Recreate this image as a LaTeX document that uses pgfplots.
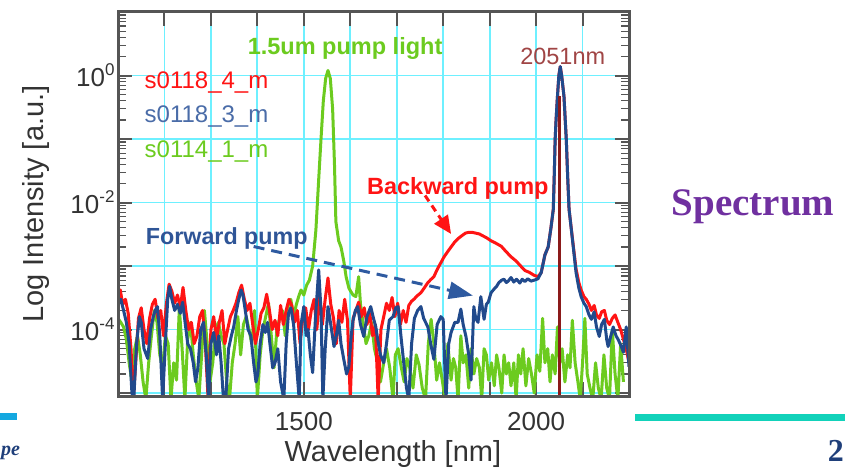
\documentclass[border=0pt]{standalone}
\usepackage{fontspec}
\setmainfont{Liberation Sans}
\newfontfamily\slideserif{Liberation Serif}
\usepackage{pgfplots}
\pgfplotsset{compat=1.18}
\usetikzlibrary{arrows.meta}
\definecolor{cred}{HTML}{FF1414}
\definecolor{cblue}{HTML}{214A8C}
\definecolor{cgreen}{HTML}{6CCB1F}
\definecolor{cmaroon}{HTML}{8B1A1A}
\definecolor{clab}{HTML}{A04545}
\definecolor{cgrid}{HTML}{6EF0FF}
\definecolor{cframe}{HTML}{555555}
\definecolor{ctick}{HTML}{333333}
\definecolor{clegblue}{HTML}{4A6CA8}
\definecolor{cfwd}{HTML}{2F5597}
\definecolor{carrow}{HTML}{2E5AA0}
\definecolor{cpurple}{HTML}{7030A0}
\definecolor{cteal}{HTML}{12D2BA}
\definecolor{cbar}{HTML}{14A8E0}
\definecolor{cnavy}{HTML}{1F3F7A}
\newcommand\tlab[1]{10\raisebox{0.42em}{\fontsize{17}{17}\selectfont #1}}
\begin{document}
\begin{tikzpicture}
\useasboundingbox (0,0) rectangle (845pt,470pt);
\begin{axis}[
  at={(118pt,74pt)}, anchor=south west,
  scale only axis, width=511pt, height=384pt,
  xmin=1100, xmax=2200, ymode=log, ymin=9e-6, ymax=10,
  xtick={1100,1200,...,2200},
  xticklabels={,,,,1500,,,,,2000,,},
  ytick={1e-5,1e-4,1e-3,1e-2,1e-1,1,10},
  yticklabels={,{\tlab{-4}},,{\tlab{-2}},,{\tlab{0}},},
  minor ytick={2e-5,3e-5,4e-5,5e-5,6e-5,7e-5,8e-5,9e-5,2e-4,3e-4,4e-4,5e-4,6e-4,7e-4,8e-4,9e-4,2e-3,3e-3,4e-3,5e-3,6e-3,7e-3,8e-3,9e-3,2e-2,3e-2,4e-2,5e-2,6e-2,7e-2,8e-2,9e-2,0.2,0.3,0.4,0.5,0.6,0.7,0.8,0.9,2,3,4,5,6,7,8,9},
  grid=major,
  major grid style={cgrid, line width=1.8pt},
  axis line style={cframe, line width=3pt},
  tick style={cframe, line width=2pt},
  minor tick style={line width=1.2pt},
  major tick length=14pt, minor tick length=8pt,
  tick label style={font=\fontsize{26}{26}\selectfont, text=ctick},
  xticklabel style={yshift=-13pt},
  label style={font=\fontsize{29}{30}\selectfont, text=ctick},
  xlabel={Wavelength [nm]},
  ylabel={Log Intensity [a.u.]},
  xlabel style={at={(axis description cs:0.538,-0.152)}, anchor=center},
  ylabel style={at={(axis description cs:-0.160,0.5)}, anchor=center},
  clip mode=individual,
  every axis plot/.append style={line width=3pt, line join=round},
]
% s0114_1_m (green)
\addplot[cgreen] coordinates {(1100,1.5e-4)(1106,1.3e-4)(1112,1.1e-4)(1118,7e-5)(1124,3e-5)(1130,1.5e-5)(1136,5e-5)(1142,8e-5)(1148,4e-5)(1154,1.5e-5)(1160,8e-6)(1166,3e-5)(1172,8e-5)(1178,2.0e-4)(1184,1.3e-4)(1190,4e-5)(1196,2.5e-5)(1202,8e-5)(1208,6e-5)(1214,8e-6)(1220,3e-5)(1226,1.6e-5)(1232,2.2e-4)(1238,5e-5)(1244,8e-6)(1250,7e-5)(1256,1.3e-4)(1262,4e-5)(1268,1.6e-5)(1274,8e-6)(1280,4e-5)(1286,2.0e-4)(1292,6e-5)(1298,1.5e-5)(1304,3e-5)(1310,1.0e-4)(1316,1.3e-4)(1322,8e-5)(1328,6e-5)(1334,1.5e-5)(1340,8e-6)(1346,3e-5)(1352,6e-5)(1358,1.6e-4)(1364,4e-5)(1370,1.2e-4)(1376,1.6e-4)(1382,1.0e-4)(1388,6e-5)(1394,2.0e-4)(1400,8e-6)(1406,4e-5)(1412,1.0e-4)(1418,1.6e-4)(1424,2.6e-4)(1430,8e-5)(1436,2.5e-5)(1442,1.0e-4)(1448,1.5e-4)(1454,2.0e-4)(1460,8e-5)(1466,2.3e-4)(1472,3.0e-4)(1478,1.6e-4)(1484,2.5e-4)(1490,3.5e-4)(1494,4.2e-4)(1500,3.5e-4)(1506,5.0e-4)(1512,6e-4)(1519,1.0e-3)(1526,3.7e-3)(1532,2.3e-2)(1537,0.1)(1542,0.4)(1547,0.9)(1552,1.2)(1557,0.9)(1562,0.3)(1566,4e-2)(1569,5e-3)(1575,2.5e-3)(1580,2.0e-3)(1586,1.2e-3)(1591,6.8e-4)(1597,4.5e-4)(1601,4.0e-4)(1606,3.5e-4)(1612,3.3e-4)(1618,6.8e-4)(1622,2.5e-4)(1628,1.2e-4)(1634,6e-5)(1640,8e-5)(1646,1.3e-4)(1652,5e-5)(1659,3e-5)(1665,1.5e-5)(1672,3e-5)(1678,5e-5)(1685,2.5e-5)(1692,8e-6)(1697,4e-5)(1703,5e-5)(1710,2.5e-5)(1716,1.5e-5)(1722,3.5e-5)(1728,2.5e-5)(1735,1.2e-5)(1742,4e-5)(1748,2.8e-5)(1755,1.2e-5)(1762,8e-6)(1768,6e-5)(1774,1.45e-4)(1780,6e-5)(1786,1.6e-5)(1792,3e-5)(1798,1.6e-5)(1804,8e-6)(1810,6e-5)(1817,1.6e-5)(1822,3.5e-5)(1827,2.5e-5)(1832,8e-6)(1838,8e-5)(1843,3e-5)(1849,4e-5)(1855,1.2e-5)(1860,5e-5)(1866,2e-5)(1872,3.5e-5)(1878,2.5e-5)(1883,8e-6)(1888,5e-5)(1893,4e-5)(1898,1.6e-5)(1904,3e-5)(1910,1.3e-5)(1915,4e-5)(1920,2.5e-5)(1926,1.0e-5)(1931,4e-5)(1936,2.0e-5)(1941,3e-5)(1946,1.3e-5)(1952,3e-5)(1957,8e-6)(1962,4e-5)(1967,2e-5)(1972,5e-5)(1978,1.3e-5)(1984,3.5e-5)(1990,2e-5)(1996,1.0e-5)(2002,4e-5)(2008,2.2e-5)(2014,1.5e-4)(2019,3e-5)(2025,5e-5)(2030,1.5e-5)(2035,4e-5)(2041,2e-5)(2046,1.1e-4)(2051,3e-5)(2056,5e-5)(2062,1.5e-5)(2068,4e-5)(2073,2.5e-5)(2078,1.4e-4)(2084,3e-5)(2090,1.5e-5)(2095,8e-6)(2100,3e-5)(2105,1.5e-4)(2110,2e-5)(2116,1.2e-5)(2122,8e-6)(2128,3e-5)(2134,1.2e-5)(2140,8e-6)(2146,4e-5)(2152,1.2e-5)(2158,8e-6)(2164,1.0e-4)(2170,2e-5)(2176,8e-6)(2182,6e-5)(2188,1.5e-5)};
% s0118_4_m (red)
\addplot[cred] coordinates {(1100,3.5e-4)(1105,4.2e-4)(1110,2.5e-4)(1116,3.0e-4)(1122,1.8e-4)(1128,5e-5)(1133,8e-6)(1138,3e-5)(1144,1.5e-4)(1150,2.2e-4)(1156,1.0e-4)(1162,6e-5)(1168,1.5e-4)(1174,2.5e-4)(1180,3.0e-4)(1186,1.5e-4)(1192,2.0e-4)(1198,8e-5)(1204,2.5e-4)(1210,5.2e-4)(1216,4.0e-4)(1222,2.6e-4)(1228,3.5e-4)(1234,2.2e-4)(1240,4.6e-4)(1246,2.0e-4)(1252,1.0e-4)(1258,1.3e-4)(1264,6e-5)(1270,8e-5)(1276,1.6e-4)(1282,2.0e-4)(1288,6e-5)(1294,8e-6)(1300,1.0e-4)(1306,1.6e-4)(1312,7e-5)(1318,1.3e-4)(1324,2.0e-4)(1330,6e-5)(1336,1.0e-4)(1342,1.6e-4)(1348,2.0e-4)(1354,2.6e-4)(1360,3.8e-4)(1366,5.0e-4)(1372,3.0e-4)(1378,2.0e-4)(1384,2.6e-4)(1390,1.2e-4)(1396,6e-5)(1402,1.0e-4)(1408,1.8e-4)(1414,2.2e-4)(1420,3.6e-4)(1426,2.0e-4)(1432,1.0e-4)(1438,1.4e-4)(1444,8e-5)(1450,2.4e-4)(1456,1.2e-4)(1462,2.0e-4)(1468,3.0e-4)(1474,2.4e-4)(1480,1.3e-4)(1486,2.0e-4)(1492,6e-5)(1498,1.6e-4)(1504,2.2e-4)(1510,1.0e-4)(1516,2.0e-4)(1522,3.0e-4)(1528,1.0e-4)(1534,3.4e-4)(1540,1.2e-4)(1546,3.0e-4)(1552,6.5e-4)(1558,2.5e-4)(1564,1.5e-4)(1570,6e-5)(1576,2.0e-4)(1582,1.3e-4)(1588,3.0e-4)(1594,1.4e-4)(1600,8e-6)(1606,1.5e-4)(1612,2.0e-4)(1618,2.7e-4)(1624,1.6e-4)(1630,2.2e-4)(1636,1.2e-4)(1642,1.8e-4)(1648,8e-5)(1654,1.2e-4)(1660,8e-6)(1666,1.0e-4)(1672,1.6e-4)(1678,2.6e-4)(1684,2.0e-4)(1690,3.2e-4)(1696,1.6e-4)(1702,2.6e-4)(1708,1.2e-4)(1714,2.0e-4)(1720,1.3e-4)(1726,2.4e-4)(1732,2.8e-4)(1737,3.0e-4)(1744,3.4e-4)(1752,3.8e-4)(1760,4.6e-4)(1767,5.5e-4)(1774,6.2e-4)(1780,6.8e-4)(1786,8.5e-4)(1791,1.0e-3)(1797,1.2e-3)(1802,1.4e-3)(1810,1.7e-3)(1817,2.0e-3)(1825,2.4e-3)(1832,2.7e-3)(1840,3.0e-3)(1848,3.3e-3)(1855,3.4e-3)(1862,3.4e-3)(1870,3.3e-3)(1878,3.2e-3)(1885,3.0e-3)(1893,2.8e-3)(1903,2.5e-3)(1913,2.3e-3)(1925,2.05e-3)(1935,1.7e-3)(1946,1.4e-3)(1957,1.2e-3)(1968,9.8e-4)(1976,8.5e-4)(1985,8.0e-4)(1995,7.2e-4)(2004,6.8e-4)(2011,7.9e-4)(2019,1.5e-3)(2026,2.0e-3)(2032,4.0e-3)(2037,7.8e-3)(2039,2.5e-2)(2041,9.8e-2)(2043,0.2)(2046,0.47)(2049,1.0)(2052,1.38)(2055,1.0)(2060,0.47)(2062,0.25)(2065,9.8e-2)(2068,2.5e-2)(2071,7.8e-3)(2080,2.1e-3)(2086,9e-4)(2092,5.5e-4)(2097,4.2e-4)(2103,3.3e-4)(2108,3.0e-4)(2114,2.5e-4)(2119,2.0e-4)(2125,2.4e-4)(2130,1.7e-4)(2136,1.5e-4)(2141,1.9e-4)(2147,2.0e-4)(2152,1.4e-4)(2158,1.2e-4)(2164,1.5e-4)(2170,1.7e-4)(2176,1.3e-4)(2182,1.0e-4)(2188,7e-5)(2194,5e-5)(2200,3e-5)};
% s0118_3_m (blue)
\addplot[cblue] coordinates {(1100,2.5e-4)(1106,3.0e-4)(1112,2.0e-4)(1118,1.3e-4)(1124,6e-5)(1130,1.0e-5)(1134,8e-6)(1140,6e-5)(1146,1.6e-4)(1150,1.3e-4)(1156,5e-5)(1164,3.5e-5)(1170,1.0e-4)(1176,1.6e-4)(1180,2.0e-4)(1185,2.3e-4)(1190,8e-5)(1196,8e-6)(1202,6e-5)(1207,3.0e-4)(1211,4.8e-4)(1216,3.0e-4)(1222,2.0e-4)(1228,2.5e-4)(1234,1.8e-4)(1239,2.7e-4)(1245,1.2e-4)(1250,6e-5)(1256,5e-5)(1262,3e-5)(1267,1.5e-5)(1272,2.5e-5)(1278,1.0e-4)(1284,1.3e-4)(1290,4e-5)(1295,8e-6)(1300,6e-5)(1306,9e-5)(1312,4e-5)(1317,8e-5)(1322,3e-5)(1327,8e-6)(1332,8e-6)(1338,5e-5)(1344,8e-5)(1349,1.1e-4)(1355,2e-4)(1360,3e-4)(1365,4.2e-4)(1369,3.5e-4)(1374,2e-4)(1380,1e-4)(1386,8e-5)(1392,3e-5)(1397,1.5e-5)(1401,2e-5)(1406,6e-5)(1412,1.2e-4)(1417,9e-5)(1422,1.3e-4)(1427,6e-5)(1433,2.5e-5)(1438,3e-5)(1444,5e-5)(1450,1.5e-5)(1457,8e-6)(1462,6e-5)(1467,1.8e-4)(1472,2.2e-4)(1478,1.2e-4)(1484,3e-5)(1490,8e-6)(1494,1.2e-4)(1500,2.3e-4)(1505,8e-5)(1509,1.0e-4)(1514,4e-5)(1519,2.1e-5)(1525,1.5e-4)(1532,8.7e-4)(1537,2e-4)(1541,8e-6)(1546,5e-5)(1552,2.3e-4)(1558,1.2e-4)(1565,5.4e-5)(1570,8e-5)(1575,1.4e-4)(1580,6e-5)(1586,3.4e-5)(1592,2e-5)(1597,2.6e-5)(1602,8e-5)(1606,1.4e-4)(1611,2e-4)(1616,2.3e-4)(1622,1.2e-4)(1629,7.8e-5)(1636,1.6e-4)(1644,2.3e-4)(1650,1.5e-4)(1655,1.1e-4)(1659,7e-5)(1665,4e-5)(1672,3e-5)(1678,6e-5)(1684,1.4e-4)(1692,1.6e-4)(1698,2.2e-4)(1703,2.3e-4)(1709,8e-5)(1716,2.6e-5)(1721,1.2e-5)(1726,8e-6)(1732,6e-5)(1738,1.5e-4)(1745,2e-4)(1752,2.3e-4)(1758,1.5e-4)(1767,1.1e-4)(1773,6e-5)(1780,3.4e-5)(1787,1.2e-4)(1795,1.6e-4)(1800,1.45e-4)(1806,8e-6)(1812,6e-5)(1817,9e-5)(1825,1.3e-4)(1832,1.3e-4)(1838,2.1e-4)(1843,1.2e-4)(1849,7.8e-5)(1855,4e-5)(1860,1.6e-5)(1866,2.3e-4)(1870,1.5e-4)(1875,1.3e-4)(1881,3.3e-4)(1888,1.45e-4)(1893,2.5e-4)(1897,2.7e-4)(1903,3.8e-4)(1909,4.3e-4)(1915,4.8e-4)(1920,5.5e-4)(1926,6.0e-4)(1931,6.2e-4)(1936,5.5e-4)(1940,5.8e-4)(1946,6.6e-4)(1952,5.6e-4)(1958,6.2e-4)(1965,5.4e-4)(1970,6.2e-4)(1976,5.7e-4)(1982,6.3e-4)(1989,5.8e-4)(1996,6.0e-4)(2004,6.3e-4)(2011,7.9e-4)(2019,1.5e-3)(2026,2.0e-3)(2032,4.0e-3)(2037,7.8e-3)(2039,2.5e-2)(2041,9.8e-2)(2043,0.2)(2046,0.47)(2049,1.0)(2052,1.38)(2055,1.0)(2060,0.47)(2062,0.25)(2065,9.8e-2)(2068,2.5e-2)(2071,7.8e-3)(2080,2.0e-3)(2086,7.9e-4)(2092,4.5e-4)(2097,3.3e-4)(2103,2.6e-4)(2108,2.3e-4)(2114,1.7e-4)(2119,1.45e-4)(2125,1.9e-4)(2130,1.1e-4)(2136,7.8e-5)(2141,1.2e-4)(2147,1.45e-4)(2152,7e-5)(2155,5.4e-5)(2161,8e-5)(2166,1.1e-4)(2172,8e-5)(2177,6.9e-5)(2183,5.5e-5)(2188,4.4e-5)(2194,1.1e-4)(2200,2.6e-5)};
% 2051 nm line
\addplot[cmaroon, line width=3pt] coordinates {(2051,9e-6)(2051,0.47)};
% frame on top
\draw[cframe, line width=3pt] (rel axis cs:0,0) rectangle (rel axis cs:1,1);
% arrows
\draw[carrow, line width=3pt, dash pattern=on 11pt off 7pt, -{Triangle[length=24pt,width=17pt]}] (axis cs:1392,2.03e-3) -- (axis cs:1864,3.43e-4);
\draw[cred, line width=3pt, dash pattern=on 7pt off 5pt, -{Triangle[length=18pt,width=16pt]}] (axis cs:1761,1.29e-2) -- (axis cs:1817,3.2e-3);
% texts
\begin{scope}[every node/.style={inner sep=0pt, anchor=west}]
\node[text=cred, font=\fontsize{24}{24}\selectfont] at (axis cs:1157,0.776) {s0118\_4\_m};
\node[text=clegblue, font=\fontsize{24}{24}\selectfont] at (axis cs:1157,0.226) {s0118\_3\_m};
\node[text=cgreen, font=\fontsize{24}{24}\selectfont] at (axis cs:1157,0.0636) {s0114\_1\_m};
\node[text=cgreen, font=\bfseries\fontsize{23.5}{24}\selectfont] at (axis cs:1379,2.66) {1.5um pump light};
\node[text=clab, font=\fontsize{23.5}{24}\selectfont] at (axis cs:1965.5,2.03) {2051nm};
\node[text=cred, font=\bfseries\fontsize{23.5}{24}\selectfont] at (axis cs:1635.8,1.68e-2) {Backward pump};
\node[text=cfwd, font=\bfseries\fontsize{23.3}{24}\selectfont] at (axis cs:1159.5,2.71e-3) {Forward pump};
\end{scope}
\end{axis}
% slide decorations
\node[font=\slideserif\bfseries\fontsize{39}{40}\selectfont, text=cpurple] at (753pt,263pt) {Spectrum};
\fill[cteal] (635pt,49pt) rectangle (845pt,56pt);
\fill[cbar] (0pt,50pt) rectangle (17pt,57pt);
\node[anchor=base west, inner sep=0pt, font=\slideserif\bfseries\itshape\fontsize{20}{20}\selectfont, text=cnavy] at (1pt,14pt) {pe};
\node[anchor=base east, inner sep=0pt, font=\slideserif\bfseries\fontsize{32}{32}\selectfont, text=cnavy] at (844pt,8pt) {2};
\end{tikzpicture}
\end{document}
